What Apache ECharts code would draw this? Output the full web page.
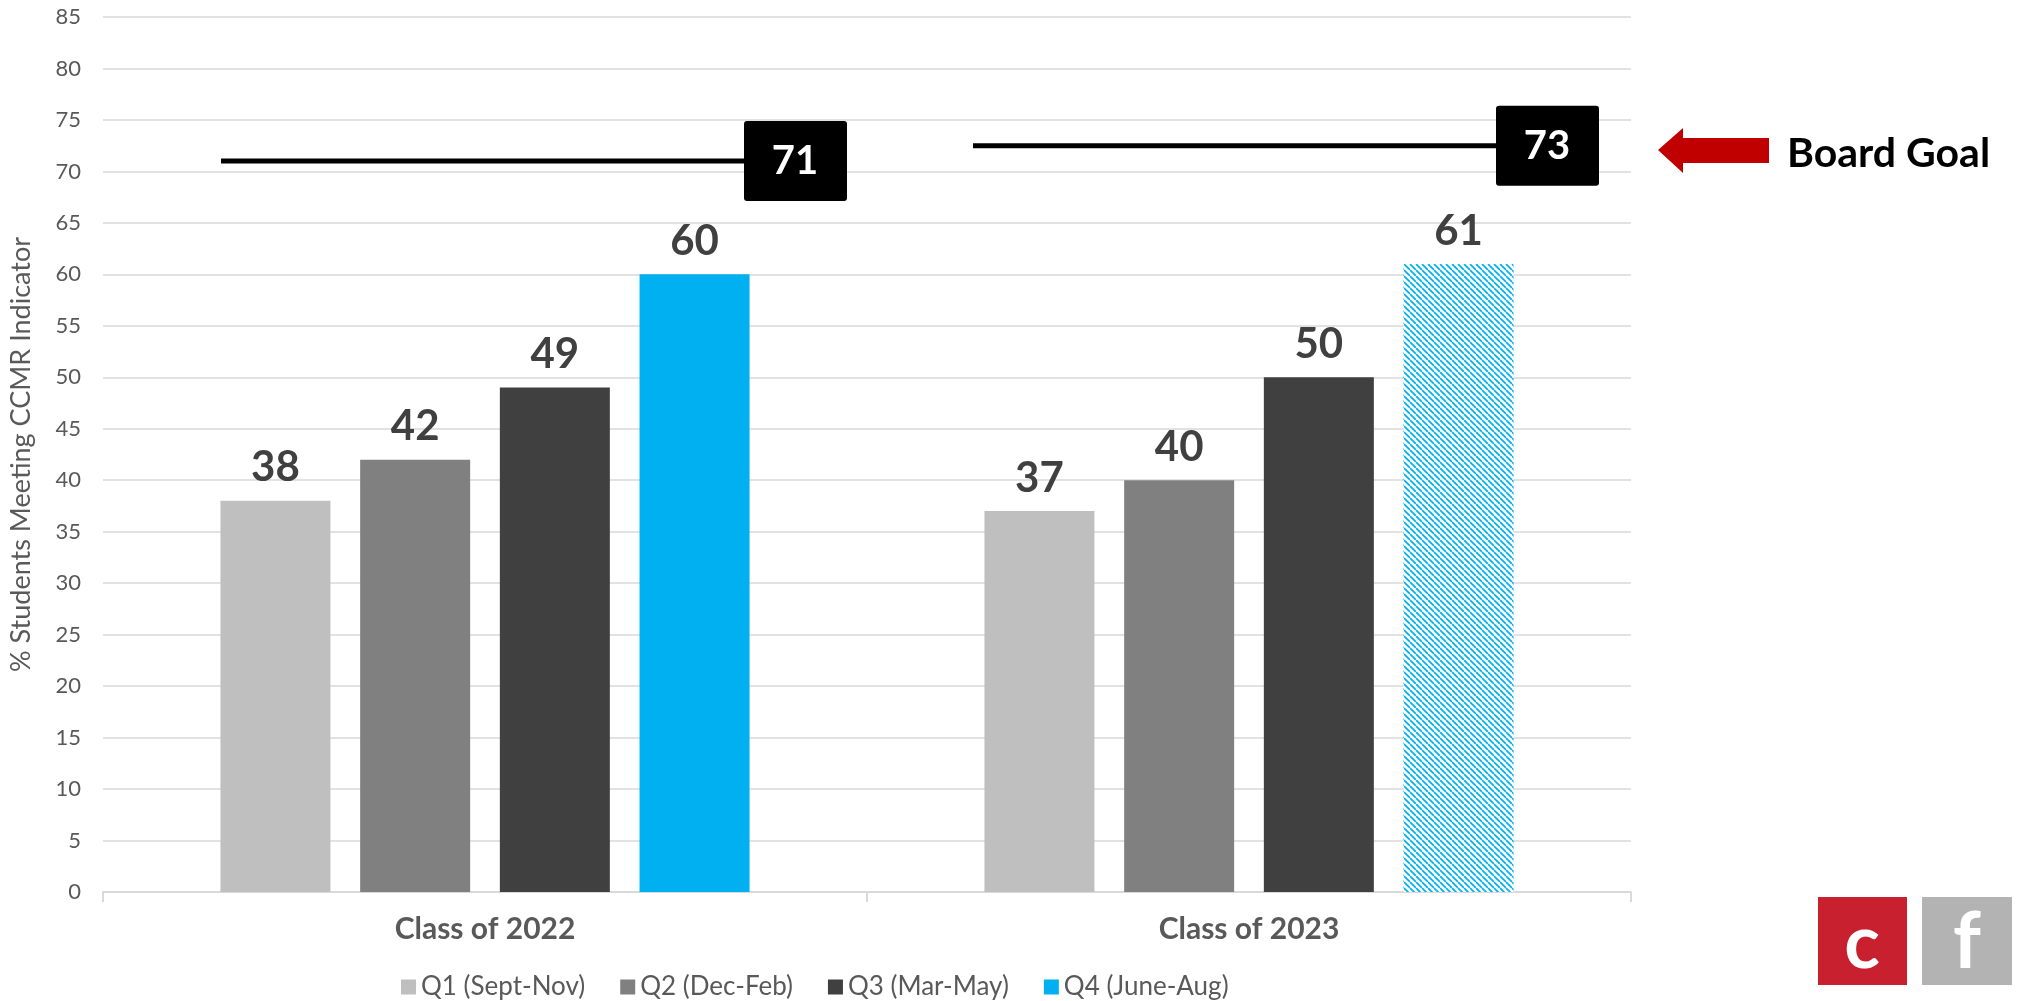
<!DOCTYPE html>
<html lang="en">
<head>
    <meta charset="UTF-8">
    <title>CCMR Indicator</title>
    <style type="text/css">
        *{
            margin: 0;
            padding: 0;
        }
        #main{
            width: 2021px;
            height: 1001px;
            background: #fff;
        }
    </style>
</head>
<body>
    <div id="main"></div>
    <script src="https://cdn.jsdelivr.net/npm/echarts@6/dist/echarts.min.js"></script>
    <script type="text/javascript">
        // data
        var classes = ['Class of 2022', 'Class of 2023'];
        var q1 = [38, 37];
        var q2 = [42, 40];
        var q3 = [49, 50];
        var q4 = [60, 61];
        var boardGoal = [71, 72.5];
        var quarterNames = ['Q1 (Sept-Nov)', 'Q2 (Dec-Feb)', 'Q3 (Mar-May)', 'Q4 (June-Aug)'];

        var FONT = 'Lato, "Open Sans", sans-serif';
        var GREY_TXT = '#595959';

        // hatched fill for the 2023 Q4 bar
        function hatch() {
            var s = 6;
            var c = document.createElement('canvas');
            c.width = s; c.height = s;
            var ctx = c.getContext('2d');
            ctx.fillStyle = '#fff';
            ctx.fillRect(0, 0, s, s);
            ctx.strokeStyle = '#00B0F0';
            ctx.lineWidth = 1.7;
            [-s, 0, s].forEach(function (k) {
                ctx.beginPath();
                ctx.moveTo(0, k);
                ctx.lineTo(s, s + k);
                ctx.stroke();
            });
            return { image: c, repeat: 'repeat' };
        }

        var myChart = echarts.init(document.getElementById('main'));

        var labelOpt = {
            show: true,
            position: 'top',
            distance: 12,
            fontFamily: FONT,
            fontWeight: 'bold',
            fontSize: 42,
            color: '#404040'
        };

        function barSeries(name, values, color) {
            return {
                name: name,
                type: 'bar',
                barWidth: 110,
                barGap: '27%',
                data: values,
                itemStyle: { color: color },
                label: labelOpt
            };
        }

        var q4Data = q4.map(function (v, i) {
            if (i === 1) {
                return { value: v, itemStyle: { color: hatch() } };
            }
            return v;
        });

        var option = {
            animation: false,
            textStyle: { fontFamily: FONT },
            grid: {
                left: 98,
                right: 390,
                top: 17,
                bottom: 109
            },
            legend: {
                data: quarterNames,
                left: 396,
                top: 969,
                icon: 'rect',
                itemWidth: 15,
                itemHeight: 15,
                itemGap: 35,
                textStyle: { fontSize: 26, color: GREY_TXT, fontFamily: FONT }
            },
            xAxis: {
                type: 'category',
                data: classes,
                axisLine: { lineStyle: { color: '#d9d9d9', width: 2 } },
                axisTick: { show: true, length: 10, lineStyle: { color: '#d9d9d9', width: 2 } },
                axisLabel: {
                    margin: 22,
                    fontSize: 30,
                    fontWeight: 'bold',
                    color: GREY_TXT,
                    fontFamily: FONT
                }
            },
            yAxis: {
                type: 'value',
                min: 0,
                max: 85,
                interval: 5,
                name: '% Students Meeting CCMR Indicator',
                nameLocation: 'middle',
                nameGap: 68,
                nameTextStyle: { fontSize: 27, color: GREY_TXT, fontFamily: FONT },
                axisLine: { show: false },
                axisTick: { show: false },
                axisLabel: { fontSize: 22, color: GREY_TXT, margin: 22, fontFamily: FONT },
                splitLine: { lineStyle: { color: '#d9d9d9', width: 1.5 } }
            },
            series: [
                barSeries(quarterNames[0], q1, '#BFBFBF'),
                barSeries(quarterNames[1], q2, '#808080'),
                barSeries(quarterNames[2], q3, '#404040'),
                {
                    name: quarterNames[3],
                    type: 'bar',
                    barWidth: 110,
                    barGap: '27%',
                    data: q4Data,
                    itemStyle: { color: '#00B0F0' },
                    label: labelOpt
                },
                {
                    name: 'Board Goal',
                    type: 'custom',
                    silent: true,
                    z: 5,
                    data: boardGoal.map(function (v, i) { return [i, v]; }),
                    encode: { x: 0, y: 1 },
                    renderItem: function (params, api) {
                        var v = api.value(1);
                        var pt = api.coord([api.value(0), v]);
                        // the two goal markers sit slightly differently in each group
                        var shift = params.dataIndex === 0 ? 4 : -8;
                        var cx = pt[0] + shift;
                        var bx = cx + 255;
                        return {
                            type: 'group',
                            children: [{
                                type: 'line',
                                shape: { x1: cx - 268, y1: pt[1], x2: bx, y2: pt[1] },
                                style: { stroke: '#000', lineWidth: 5 }
                            }, {
                                type: 'rect',
                                shape: { x: bx, y: pt[1] - 40, width: 103, height: 80, r: 3 },
                                style: { fill: '#000' }
                            }, {
                                type: 'text',
                                style: {
                                    text: String(Math.round(v)),
                                    x: bx + 51,
                                    y: pt[1],
                                    align: 'center',
                                    verticalAlign: 'middle',
                                    fill: '#fff',
                                    font: 'bold 40px ' + FONT
                                }
                            }]
                        };
                    }
                }
            ],
            graphic: [
                {
                    type: 'polygon',
                    shape: {
                        points: [[1658, 150], [1683, 128], [1683, 138], [1769, 138],
                                 [1769, 163], [1683, 163], [1683, 173]]
                    },
                    style: { fill: '#C00000' }
                },
                {
                    type: 'text',
                    left: 1787,
                    top: 133,
                    style: {
                        text: 'Board Goal',
                        font: 'bold 41px ' + FONT,
                        fill: '#000'
                    }
                },
                {
                    type: 'rect',
                    shape: { x: 1818, y: 897, width: 89, height: 88 },
                    style: { fill: '#C8202F' }
                },
                {
                    type: 'text',
                    style: {
                        text: 'c', x: 1862, y: 944, align: 'center', verticalAlign: 'middle',
                        font: 'bold 74px ' + FONT, fill: '#fff'
                    }
                },
                {
                    type: 'rect',
                    shape: { x: 1922, y: 897, width: 90, height: 88 },
                    style: { fill: '#B3B3B3' }
                },
                {
                    type: 'text',
                    style: {
                        text: 'f', x: 1967, y: 943, align: 'center', verticalAlign: 'middle',
                        font: 'bold 78px ' + FONT, fill: '#fff'
                    }
                }
            ]
        };

        myChart.setOption(option);
    </script>
</body>
</html>
